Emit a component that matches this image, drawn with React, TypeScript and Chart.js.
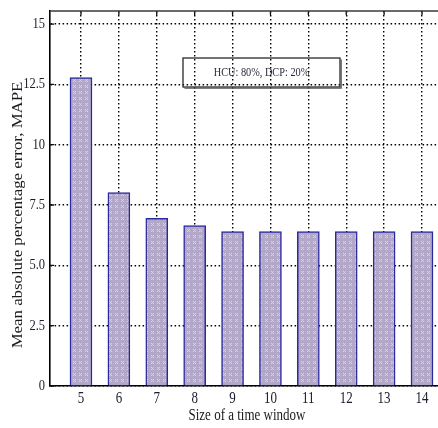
import React, { useEffect, useRef } from 'react';
import { Chart, registerables } from 'chart.js';

Chart.register(...registerables);

const windowSizes = [5, 6, 7, 8, 9, 10, 11, 12, 13, 14];
const mapeValues = [12.78, 8.02, 6.95, 6.65, 6.4, 6.4, 6.4, 6.4, 6.4, 6.4];
const yTickValues = [0, 2.5, 5, 7.5, 10, 12.5, 15];
const yTickLabels = ['0', '2.5', '5.0', '7.5', '10', '12.5', '15'];
const legendText = 'HCU: 80%, DCP: 20%';
const xTitle = 'Size of a time window';
const yTitle = 'Mean absolute percentage error, MAPE';

const FONT = '"Liberation Serif", "Times New Roman", serif';

function stretchedText(
  ctx: CanvasRenderingContext2D,
  text: string,
  x: number,
  y: number,
  align: CanvasTextAlign,
  size: number,
  sx: number,
  sy: number,
  rot = 0
) {
  ctx.save();
  ctx.translate(x, y);
  if (rot) ctx.rotate(rot);
  ctx.scale(sx, sy);
  ctx.font = `${size}px ${FONT}`;
  ctx.textAlign = align;
  ctx.textBaseline = 'middle';
  ctx.fillText(text, 0, 0);
  ctx.restore();
}

const decorPlugin = {
  id: 'decor',
  beforeDatasetsDraw(chart: any) {
    const { ctx, chartArea, scales } = chart;
    const xs = scales.x;
    const ys = scales.y;
    ctx.save();
    ctx.strokeStyle = '#111';
    ctx.lineWidth = 1.3;
    ctx.beginPath();
    windowSizes.forEach((v) => {
      const px = xs.getPixelForValue(v);
      ctx.moveTo(px, chartArea.top);
      ctx.lineTo(px, chartArea.top + 4);
    });
    yTickValues.forEach((v) => {
      const py = ys.getPixelForValue(v);
      ctx.moveTo(chartArea.left, py);
      ctx.lineTo(chartArea.left + 4, py);
    });
    ctx.stroke();
    ctx.restore();
  },
  afterDatasetsDraw(chart: any) {
    const { ctx, chartArea, scales } = chart;
    const xs = scales.x;
    const ys = scales.y;
    ctx.save();
    ctx.strokeStyle = '#3a3a3a';
    ctx.lineWidth = 1.6;
    ctx.beginPath();
    ctx.moveTo(chartArea.left, chartArea.top);
    ctx.lineTo(chartArea.right, chartArea.top);
    ctx.stroke();

    ctx.fillStyle = '#1c1c2a';
    windowSizes.forEach((v) => {
      stretchedText(ctx, String(v), xs.getPixelForValue(v), 399, 'center', 13, 1, 1.22);
    });
    yTickValues.forEach((v, i) => {
      stretchedText(ctx, yTickLabels[i], 45, ys.getPixelForValue(v), 'right', 12.5, 1, 1.25);
    });

    ctx.fillStyle = '#1a1a1a';
    stretchedText(ctx, xTitle, 247, 416, 'center', 13, 1, 1.3);
    stretchedText(ctx, yTitle, 18, 215, 'center', 14, 1.2, 1, -Math.PI / 2);

    const bx = 183, by = 58, bw = 157, bh = 29;
    ctx.strokeStyle = '#2a2a2a';
    ctx.lineWidth = 1.3;
    ctx.strokeRect(bx, by, bw, bh);
    ctx.strokeStyle = '#555';
    ctx.lineWidth = 1.2;
    ctx.beginPath();
    ctx.moveTo(bx + bw + 1.2, by + 1.5);
    ctx.lineTo(bx + bw + 1.2, by + bh + 1.2);
    ctx.lineTo(bx + 1.5, by + bh + 1.2);
    ctx.stroke();
    ctx.fillStyle = '#2b2b3c';
    stretchedText(ctx, legendText, bx + bw / 2, by + bh / 2, 'center', 10.3, 1, 1.2);
    ctx.restore();
  },
};

export default function App() {
  const canvasRef = useRef<HTMLCanvasElement | null>(null);

  useEffect(() => {
    const canvas = canvasRef.current;
    if (!canvas) return;

    const pc = document.createElement('canvas');
    pc.width = 6;
    pc.height = 6;
    const g = pc.getContext('2d')!;
    g.fillStyle = '#b3a7ca';
    g.fillRect(0, 0, 6, 6);
    g.fillStyle = '#d8d2e6';
    [[1, 1], [3, 1], [2, 2], [1, 3], [3, 3]].forEach(([a, b]) => g.fillRect(a, b, 1, 1));
    const ctx2 = canvas.getContext('2d')!;
    const pattern = ctx2.createPattern(pc, 'repeat') || '#bab0d3';

    const chart = new Chart(canvas, {
      type: 'bar',
      data: {
        datasets: [
          {
            data: windowSizes.map((x, i) => ({ x, y: mapeValues[i] })),
            backgroundColor: pattern as any,
            borderColor: '#2a2aa0',
            borderWidth: 1.5,
            barThickness: 22,
          },
        ],
      },
      options: {
        responsive: false,
        animation: false,
        events: [],
        layout: { padding: { top: 11, right: 7, left: 0, bottom: 0 } },
        plugins: { legend: { display: false }, tooltip: { enabled: false } },
        scales: {
          x: {
            type: 'linear',
            offset: false,
            min: 4.182,
            max: 14.818,
            afterBuildTicks: (s: any) => {
              s.ticks = windowSizes.map((v) => ({ value: v }));
            },
            afterFit: (s: any) => {
              s.height = 42;
            },
            ticks: { display: false },
            grid: { color: '#000', lineWidth: 1.4, drawTicks: false, offset: false },
            border: { display: true, color: '#000', width: 1.6, dash: [1.5, 2.5] },
          },
          y: {
            type: 'linear',
            min: 0,
            max: 15.54,
            afterBuildTicks: (s: any) => {
              s.ticks = yTickValues.map((v) => ({ value: v }));
            },
            afterFit: (s: any) => {
              s.width = 50;
            },
            ticks: { display: false },
            grid: { color: '#000', lineWidth: 1.4, drawTicks: false },
            border: { display: true, color: '#000', width: 1.6, dash: [1.5, 2.5] },
          },
        },
      },
      plugins: [decorPlugin],
    } as any);

    return () => chart.destroy();
  }, []);

  return (
    <div
      style={{
        position: 'fixed',
        left: 0,
        top: 0,
        width: 438,
        height: 428,
        overflow: 'hidden',
        background: '#fff',
      }}
    >
      <canvas ref={canvasRef} width={460} height={428} style={{ display: 'block' }} />
    </div>
  );
}
